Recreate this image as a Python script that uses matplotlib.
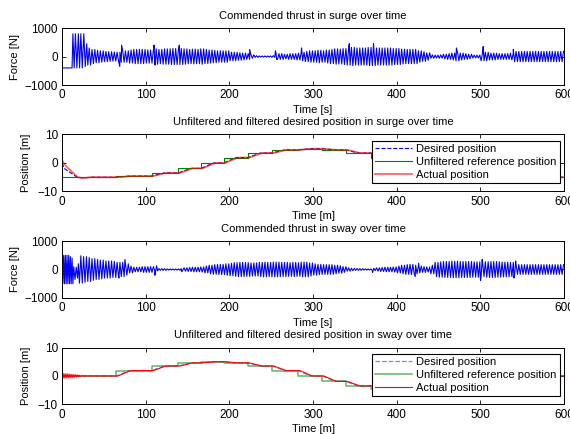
import matplotlib
matplotlib.use("Agg")
import matplotlib.pyplot as plt
import numpy as np

plt.rcParams['font.family'] = ['Liberation Sans', 'DejaVu Sans']
plt.rcParams['font.size'] = 8

# ---- commanded thrust, surge: first 30 s read point by point, then peak amplitude per 5 s block
surge_head_t = [0, 0.3, 12, 13, 14.5, 16, 17.8, 19.5, 21, 22.5, 24.2, 26, 27.8, 29.5]
surge_head_v = [600, -400, -400, 800, -400, 800, -400, 800, -400, 800, -400, 800, -350, 450]
surge_amp = [300, 250, 220, 200, 180, 170, 160, 150, 200, 200,
             230, 250, 250, 250, 230, 230, 270, 250, 270, 270,
             280, 280, 280, 270, 250, 260, 250, 270, 250, 230,
             220, 200, 200, 200, 150, 150, 130, 120, 100, 60,
             30, 20, 20, 20, 30, 100, 100, 80, 100, 100,
             120, 150, 180, 200, 200, 220, 200, 230, 250, 270,
             260, 280, 300, 320, 300, 300, 300, 320, 320, 300,
             300, 300, 300, 280, 280, 260, 250, 250, 250, 200,
             170, 130, 60, 50, 60, 80, 100, 120, 150, 120,
             100, 80, 50, 50, 150, 150, 120, 120, 100, 100,
             100, 120, 180, 180, 180, 180, 180, 180, 180, 180,
             180, 180, 180, 180]
surge_spike_t = [69, 71.2, 110, 111.2, 140.2, 224.2, 255, 256.4, 286.2, 343.2, 372.2, 471.2, 503.2, 539.2]
surge_spike_v = [-350, 400, 400, -300, 400, 250, 200, -100, 300, 450, 450, 300, 350, 250]

# ---- commanded thrust, sway
sway_head_t = [0, 1, 2, 3, 4, 5, 6, 7, 8, 9, 10, 11, 12, 13, 14, 15.5, 17, 18.5, 19.5]
sway_head_v = [500, -500, 500, -500, 500, -500, 500, -500, 500, -500, 450, -500, 400, -500, 100, -350, 80, -300, 200]
sway_amp = [480, 450, 420, 380, 350, 330, 300, 300, 280, 250,
            250, 200, 120, 80, 80, 100, 100, 100, 50, 30,
            30, 20, 20, 20, 30, 60, 70, 80, 80, 90,
            120, 150, 170, 180, 180, 200, 220, 240, 250, 250,
            240, 230, 230, 250, 260, 250, 260, 260, 250, 250,
            240, 250, 240, 260, 260, 230, 200, 180, 170, 170,
            170, 150, 130, 100, 60, 40, 30, 30, 20, 20,
            40, 60, 70, 80, 80, 90, 120, 150, 170, 180,
            150, 120, 100, 90, 150, 250, 270, 280, 280, 290,
            290, 280, 280, 280, 270, 270, 250, 270, 280, 280,
            270, 260, 260, 250, 170, 170, 170, 170, 170, 170,
            170, 170, 170, 170, 170, 170]
sway_spike_t = [68, 75.2, 111, 113, 143, 371, 422, 426, 500, 502, 540, 542]
sway_spike_v = [-300, 350, -200, 130, -80, -100, -250, 220, -380, 350, -300, 300]

# ---- reference steps (unfiltered)
ref_t = [0, 0, 65, 107, 139, 166, 193, 222, 251, 282, 311, 339, 369, 398, 427, 456, 485, 514, 600]
surge_ref = [0, -5, -4.6, -3.5, -1.9, 0, 1.9, 3.5, 4.6, 5, 4.6, 3.5, 1.9, 0, -1.9, -3.5, -4.6, -5, -5]
sway_ref = [0, 0, 1.9, 3.5, 4.6, 5, 4.6, 3.5, 1.9, 0, -1.9, -3.5, -4.6, -5, -4.6, -3.5, -1.9, 0, 0]

# ---- desired (filtered) position
surge_des_t = [0, 3, 18, 25, 35, 65, 80, 107, 122, 139, 154, 166, 181, 193, 208, 222, 237, 251, 266,
               282, 297, 311, 326, 339, 354, 369, 384, 398, 413, 427, 442, 456, 471, 485, 500, 514, 529, 600]
surge_des = [0, -2, -5, -5.2, -5, -5, -4.6, -4.6, -3.5, -3.5, -1.9, -1.9, 0, 0, 1.9, 1.9, 3.5, 3.5, 4.6,
             4.6, 5, 5, 4.6, 4.6, 3.5, 3.5, 1.9, 1.9, 0, 0, -1.9, -1.9, -3.5, -3.5, -4.6, -4.6, -5, -5]
sway_des_t = [0, 65, 80, 107, 122, 139, 154, 166, 181, 193, 208, 222, 237, 251, 266, 282, 297,
              311, 326, 339, 354, 369, 384, 398, 413, 427, 442, 456, 471, 485, 500, 514, 529, 600]
sway_des = [0, 0, 1.9, 1.9, 3.5, 3.5, 4.6, 4.6, 5, 5, 4.6, 4.6, 3.5, 3.5, 1.9, 1.9, 0,
            0, -1.9, -1.9, -3.5, -3.5, -4.6, -4.6, -5, -5, -4.6, -4.6, -3.5, -3.5, -1.9, -1.9, 0, 0]

# ---- actual position
surge_act_t = [0, 1, 2, 5, 19, 25, 35, 67, 82, 109, 124, 141, 156, 168, 183, 195, 210, 224, 239, 253,
               268, 284, 299, 313, 328, 341, 356, 371, 386, 400, 415, 429, 444, 458, 473, 487, 502, 516, 531, 600]
surge_act = [0, 0.6, 0, -1.2, -5, -5.3, -5, -5, -4.6, -4.6, -3.5, -3.5, -1.9, -1.9, 0, 0, 1.9, 1.9, 3.5, 3.5,
             4.6, 4.6, 5, 5, 4.6, 4.6, 3.5, 3.5, 1.9, 1.9, 0, 0, -1.9, -1.9, -3.5, -3.5, -4.6, -4.6, -5, -5]
sway_act_t = [0, 1.2, 2.4, 3.6, 4.8, 6, 7.2, 8.4, 9.6, 10.8, 12, 13.2, 14.4, 15.6, 16.8, 18, 19.2,
              20.4, 21.6, 23, 25,
              67, 82, 109, 124, 141, 156, 168, 183, 195, 210, 224, 239, 253, 268, 284, 299, 313, 328, 341,
              356, 371, 386, 400, 415, 429, 444, 458, 473, 487, 502, 516, 531, 600]
sway_act = [0, 0.9, -0.8, 0.8, -0.7, 0.8, -0.7, 0.7, -0.6, 0.6, -0.6, 0.5, -0.5, 0.5, -0.4, 0.4, -0.3,
            0.3, -0.2, 0.1, 0,
            0, 1.9, 1.9, 3.5, 3.5, 4.6, 4.6, 5, 5, 4.6, 4.6, 3.5, 3.5, 1.9, 1.9, 0, 0, -1.9, -1.9,
            -3.5, -3.5, -4.6, -4.6, -5, -5, -4.6, -4.6, -3.5, -3.5, -1.9, -1.9, 0, 0]


def thrust_series(head_t, head_v, t0, amps, spike_t, spike_v, block=5.0):
    # three alternating peaks per 5 s block, at the amplitude read for that block
    t = list(head_t)
    v = list(head_v)
    n = 0
    for i, a in enumerate(amps):
        start = t0 + i * block
        for off in (0.8, 2.5, 4.2):
            t.append(start + off)
            v.append(-a if n % 2 == 0 else a)
            n += 1
    t += spike_t
    v += spike_v
    order = np.argsort(t, kind='stable')
    return np.array(t)[order], np.array(v)[order]


def matlab_axes(ax, ylim, yticks):
    ax.set_xlim(0, 600)
    ax.set_ylim(*ylim)
    ax.set_xticks([0, 100, 200, 300, 400, 500, 600])
    ax.set_yticks(yticks)
    ax.tick_params(direction='in', top=True, right=True, length=3, width=0.6, labelsize=8.5, pad=3)
    for s in ax.spines.values():
        s.set_linewidth(0.7)


fig = plt.figure(figsize=(5.70, 4.34), dpi=100)
L, W, H = 0.1088, 0.881, 0.1313
ax1 = fig.add_axes([L, 0.8041, W, H])
ax2 = fig.add_axes([L, 0.5588, W, H])
ax3 = fig.add_axes([L, 0.3134, W, H])
ax4 = fig.add_axes([L, 0.068, W, H])

TPAD = 6.5
XPAD = 2.5

st, sv = thrust_series(surge_head_t, surge_head_v, 30, surge_amp, surge_spike_t, surge_spike_v)
ax1.plot(st, sv, color='blue', lw=0.8)
matlab_axes(ax1, (-1000, 1000), [-1000, 0, 1000])
ax1.set_title('Commended thrust in surge over time', fontsize=8, pad=TPAD)
ax1.set_xlabel('Time [s]', labelpad=XPAD)
ax1.set_ylabel('Force [N]', labelpad=3)

ax2.plot(surge_des_t, surge_des, color='blue', ls='--', lw=0.8, label='Desired position')
ax2.plot(ref_t, surge_ref, color=(0, 0.5, 0), lw=0.8, drawstyle='steps-post',
         label='Unfiltered reference position')
ax2.plot(surge_act_t, surge_act, color='red', lw=1.3, alpha=0.6, label='Actual position')
matlab_axes(ax2, (-10, 10), [-10, 0, 10])
ax2.set_title('Unfiltered and filtered desired position in surge over time', fontsize=8, pad=TPAD)
ax2.set_xlabel('Time [m]', labelpad=XPAD)
ax2.set_ylabel('Position [m]', labelpad=5)

wt, wv = thrust_series(sway_head_t, sway_head_v, 20, sway_amp, sway_spike_t, sway_spike_v)
ax3.plot(wt, wv, color='blue', lw=0.8)
matlab_axes(ax3, (-1000, 1000), [-1000, 0, 1000])
ax3.set_title('Commended thrust in sway over time', fontsize=8, pad=TPAD)
ax3.set_xlabel('Time [s]', labelpad=XPAD)
ax3.set_ylabel('Force [N]', labelpad=3)

ax4.plot(sway_des_t, sway_des, color='blue', ls='--', lw=0.9, alpha=0.5, label='Desired position')
ax4.plot(ref_t, sway_ref, color=(0, 0.5, 0), lw=1.1, alpha=0.6, drawstyle='steps-post',
         label='Unfiltered reference position')
ax4.plot(sway_act_t, sway_act, color='red', lw=0.8, label='Actual position')
matlab_axes(ax4, (-10, 10), [-10, 0, 10])
ax4.set_title('Unfiltered and filtered desired position in sway over time', fontsize=8, pad=TPAD)
ax4.set_xlabel('Time [m]', labelpad=XPAD)
ax4.set_ylabel('Position [m]', labelpad=5)

for ax in (ax2, ax4):
    leg = ax.legend(loc='upper right', bbox_to_anchor=(0.992, 0.886), borderaxespad=0, fontsize=8,
                    handlelength=3.3, handletextpad=0.4, labelspacing=0.25, borderpad=0.3,
                    fancybox=False, framealpha=1, edgecolor='black')
    leg.get_frame().set_linewidth(0.8)

fig.savefig('out.png', dpi=100)
